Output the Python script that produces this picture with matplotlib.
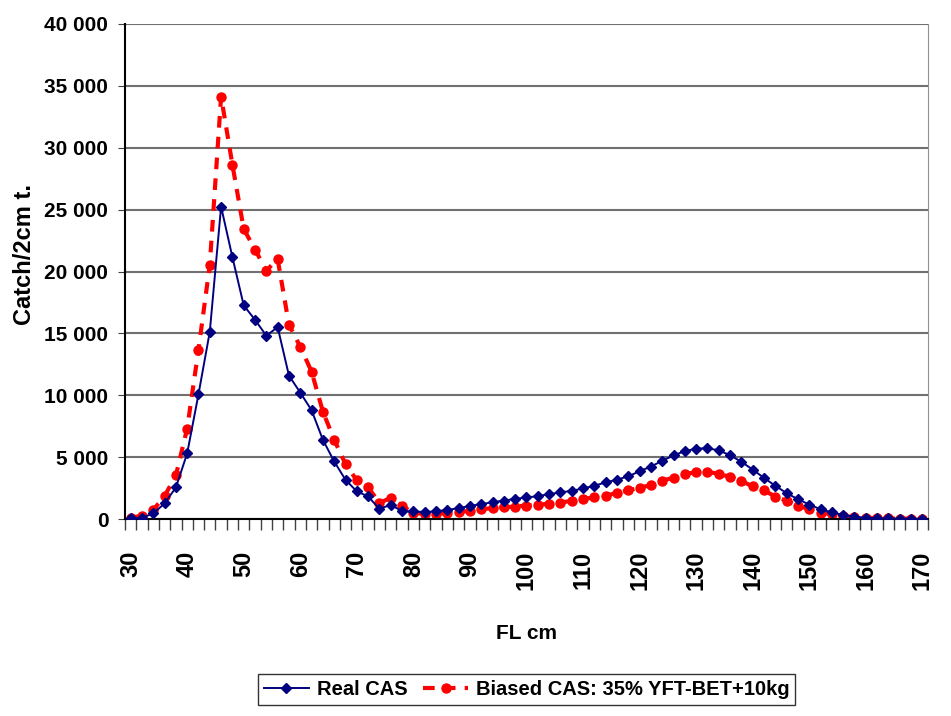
import matplotlib
matplotlib.use("Agg")
import matplotlib.pyplot as plt
from matplotlib.ticker import FuncFormatter, FixedLocator
import numpy as np

# FL classes, 2 cm steps
fl_cm = list(range(30, 172, 2))

real_cas = [50, 100, 450, 1260, 2550, 5300, 10080, 15130, 25240, 21160,
            17260, 16100, 14810, 15510, 11590, 10215, 8790, 6400, 4650, 3170,
            2230, 1830, 810, 1160, 620, 620, 560, 620, 740, 870,
            1060, 1200, 1360, 1490, 1630, 1740, 1850, 2010, 2150, 2280,
            2470, 2690, 2960, 3180, 3450, 3860, 4240, 4700, 5140, 5490,
            5680, 5730, 5540, 5160, 4620, 4000, 3320, 2690, 2090, 1600,
            1170, 790, 540, 330, 190, 110, 50, 50, 30, 30, 30]

biased_cas = [100, 270, 730, 1850, 3520, 7310, 13680, 20540, 34140, 28630,
              23440, 21770, 20080, 21000, 15700, 13925, 11910, 8680, 6400, 4440,
              3120, 2580, 1290, 1720, 1075, 480, 430, 430, 480, 540,
              680, 815, 870, 950, 1005, 1090, 1140, 1250, 1330, 1470,
              1600, 1770, 1875, 2120, 2310, 2530, 2740, 3100, 3340, 3640,
              3780, 3800, 3670, 3400, 3070, 2640, 2310, 1820, 1470, 1060,
              815, 520, 380, 245, 135, 110, 55, 55, 30, 30, 30]

fam = ['Liberation Sans', 'DejaVu Sans']

fig = plt.figure(figsize=(9.51, 7.16), dpi=100)
ax = fig.add_axes([0.1314, 0.2751, 0.8444, 0.6914])

x = np.arange(len(fl_cm))
ax.plot(x, real_cas, color='#000080', lw=1.4, marker='D', ms=5.5,
        label='Real CAS', zorder=3)
ax.plot(x, biased_cas, color='#FF0000', lw=3, ls=(0, (2.8, 2.2)), marker='o',
        ms=6.5, label='Biased CAS: 35% YFT-BET+10kg', zorder=2)

ax.set_xlim(-0.5, len(fl_cm) - 0.5)
ax.set_ylim(0, 40000)
ax.set_yticks(range(0, 40001, 5000))
ax.yaxis.set_major_formatter(FuncFormatter(lambda v, p: '{:,.0f}'.format(v).replace(',', ' ')))
ax.grid(axis='y', color='#707070', lw=1.5)
ax.set_axisbelow(True)

lab_pos = [i for i, v in enumerate(fl_cm) if v % 10 == 0]
ax.xaxis.set_major_locator(FixedLocator(lab_pos))
ax.set_xticklabels([str(fl_cm[i]) for i in lab_pos], rotation=90,
                   fontsize=17, fontweight='bold', family=fam)
ax.xaxis.set_minor_locator(FixedLocator(np.arange(-0.5, len(fl_cm), 1)))
ax.tick_params(axis='x', which='major', length=0, pad=23)
ax.tick_params(axis='x', which='minor', length=8, color='#404040', width=1)
ax.tick_params(axis='y', length=5, color='#404040', pad=7)
for t in ax.get_yticklabels():
    t.set_family(fam)
    t.set_fontsize(15)
    t.set_fontweight('bold')

ax.spines['top'].set_visible(False)
ax.spines['right'].set_color('#909090')
ax.spines['left'].set_linewidth(1.5)
ax.spines['bottom'].set_linewidth(1.5)

ax.set_xlabel('FL cm', fontsize=15, fontweight='bold', family=fam, labelpad=24)
fig.text(0.026, 0.644, 'Catch/2cm t.', rotation=90, ha='center', va='center',
         fontsize=17, fontweight='bold', family=fam)

leg = fig.legend(loc='upper center', bbox_to_anchor=(0.554, 0.0587), ncol=2,
                 frameon=True, fancybox=False, edgecolor='black', handlelength=2.2,
                 columnspacing=0.8, handletextpad=0.4, borderpad=0.3,
                 borderaxespad=0,
                 prop={'family': fam, 'weight': 'bold', 'size': 14.5})
leg.get_frame().set_linewidth(1.0)

fig.savefig('out.png', dpi=100)
